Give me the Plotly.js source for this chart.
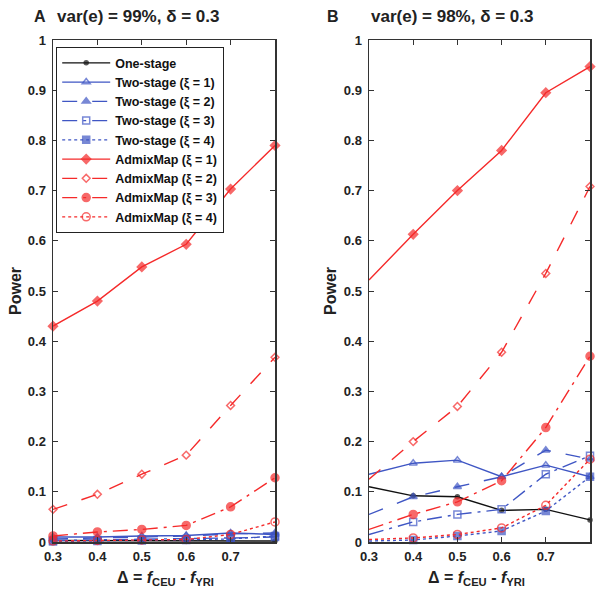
<!DOCTYPE html>
<html>
<head>
<meta charset="utf-8">
<script src="https://cdn.plot.ly/plotly-3.0.1.min.js"></script>
<style>html,body{margin:0;padding:0;background:#fff;}#chart{width:602px;height:595px;}</style>
</head>
<body>
<div id="chart"></div>
<script>
// ---- Data ----
const delta = [0.3, 0.4, 0.5, 0.6, 0.7, 0.8];
const seriesNames = ["One-stage", "Two-stage (ξ = 1)", "Two-stage (ξ = 2)", "Two-stage (ξ = 3)", "Two-stage (ξ = 4)",
  "AdmixMap (ξ = 1)", "AdmixMap (ξ = 2)", "AdmixMap (ξ = 3)", "AdmixMap (ξ = 4)"];

// Panel A: var(e) = 99%
const A_oneStage  = [0.003, 0.003, 0.003, 0.003, 0.003, 0.002];
const A_two1      = [0.010, 0.010, 0.012, 0.013, 0.018, 0.015];
const A_two2      = [0.006, 0.008, 0.010, 0.012, 0.016, 0.018];
const A_two3      = [0.003, 0.004, 0.005, 0.006, 0.008, 0.010];
const A_two4      = [0.001, 0.002, 0.003, 0.004, 0.006, 0.012];
const A_admix1    = [0.430, 0.480, 0.548, 0.593, 0.703, 0.790];
const A_admix2    = [0.065, 0.095, 0.135, 0.173, 0.272, 0.368];
const A_admix3    = [0.012, 0.020, 0.025, 0.033, 0.070, 0.128];
const A_admix4    = [0.002, 0.003, 0.004, 0.005, 0.015, 0.040];

// Panel B: var(e) = 98%
const B_oneStage  = [0.110, 0.092, 0.090, 0.063, 0.065, 0.044];
const B_two1      = [0.135, 0.157, 0.163, 0.130, 0.153, 0.130];
const B_two2      = [0.055, 0.090, 0.110, 0.130, 0.183, 0.165];
const B_two3      = [0.015, 0.040, 0.055, 0.065, 0.135, 0.172];
const B_two4      = [0.002, 0.004, 0.012, 0.022, 0.062, 0.130];
const B_admix1    = [0.522, 0.613, 0.700, 0.780, 0.895, 0.947];
const B_admix2    = [0.125, 0.200, 0.270, 0.378, 0.535, 0.708];
const B_admix3    = [0.025, 0.055, 0.080, 0.122, 0.228, 0.370];
const B_admix4    = [0.005, 0.008, 0.015, 0.028, 0.073, 0.165];

const xTickVals = [0.3, 0.4, 0.5, 0.6, 0.7];
const xTickText = ["0.3", "0.4", "0.5", "0.6", "0.7"];
const yTickVals = [0, 0.1, 0.2, 0.3, 0.4, 0.5, 0.6, 0.7, 0.8, 0.9, 1];
const yTickText = ["0", "0.1", "0.2", "0.3", "0.4", "0.5", "0.6", "0.7", "0.8", "0.9", "1"];

// ---- Styles ----
const BLACK = "#111111", BLUE = "#3f56c4", RED = "#f52a2a";
const styles = [
  {color: BLACK, dash: "solid",       symbol: "circle",            size: 4},
  {color: BLUE,  dash: "solid",       symbol: "triangle-up-open",  size: 7},
  {color: BLUE,  dash: "longdash",    symbol: "triangle-up",       size: 7},
  {color: BLUE,  dash: "longdashdot", symbol: "square-open",       size: 7},
  {color: BLUE,  dash: "dot",         symbol: "square",            size: 7},
  {color: RED,   dash: "solid",       symbol: "diamond",           size: 7},
  {color: RED,   dash: "longdash",    symbol: "diamond-open",      size: 6},
  {color: RED,   dash: "longdashdot", symbol: "circle",            size: 8},
  {color: RED,   dash: "dot",         symbol: "circle-open",       size: 8}
];

const panelA = [A_oneStage, A_two1, A_two2, A_two3, A_two4, A_admix1, A_admix2, A_admix3, A_admix4];
const panelB = [B_oneStage, B_two1, B_two2, B_two3, B_two4, B_admix1, B_admix2, B_admix3, B_admix4];

const traces = [];
function addPanel(data, xa, ya, showLegend, hideFirstMarker) {
  data.forEach((ys, i) => {
    const st = styles[i];
    const sizes = delta.map((_, k) => (hideFirstMarker && k === 0) ? 0 : st.size);
    traces.push({
      x: delta, y: ys, xaxis: xa, yaxis: ya,
      type: "scatter", mode: "lines+markers",
      name: seriesNames[i], showlegend: showLegend, cliponaxis: false,
      line: {color: st.color, dash: st.dash, width: 1.4},
      marker: {color: st.color, symbol: st.symbol, size: sizes, line: {color: st.color, width: 1.5}}
    });
  });
}
addPanel(panelA, "x", "y", true, false);
addPanel(panelB, "x2", "y2", false, true);

const tickFont = {family: "Liberation Sans, Arial, sans-serif", size: 13, color: "#222", weight: "bold"};
function xAxis(domain, anchor) {
  return {domain: domain, anchor: anchor, range: [0.3, 0.8], tickvals: xTickVals, ticktext: xTickText,
    ticks: "inside", ticklen: 5, tickcolor: "#333", showline: true, linecolor: "#333", linewidth: 1.5,
    mirror: "ticks", showgrid: false, zeroline: false, tickfont: tickFont, ticklabelstandoff: 2};
}
function yAxis(domain, anchor) {
  return {domain: domain, anchor: anchor, range: [0, 1], tickvals: yTickVals, ticktext: yTickText,
    ticks: "inside", ticklen: 5, tickcolor: "#333", showline: true, linecolor: "#333", linewidth: 1.5,
    mirror: "ticks", showgrid: false, zeroline: false, tickfont: tickFont, ticklabelstandoff: 3};
}
const yDom = [1 - 542/595, 1 - 40/595];
const layout = {
  width: 602, height: 595,
  margin: {l: 0, r: 0, t: 0, b: 0},
  paper_bgcolor: "#fff", plot_bgcolor: "#fff",
  font: {family: "Liberation Sans, Arial, sans-serif", color: "#222"},
  xaxis: xAxis([53/602, 275/602], "y"),
  yaxis: yAxis(yDom, "x"),
  xaxis2: xAxis([369/602, 590/602], "y2"),
  yaxis2: yAxis(yDom, "x2"),
  showlegend: true,
  legend: {x: 56/602, y: 1 - 47/595, xanchor: "left", yanchor: "top",
    bgcolor: "#fff", bordercolor: "#222", borderwidth: 1.2, tracegroupgap: 0, itemwidth: 48,
    font: {family: "Liberation Sans, Arial, sans-serif", size: 12.5, color: "#111", weight: "bold"}},
  annotations: [
    {text: "<b>A</b>", x: 40/602, y: 1 - 16/595, xref: "paper", yref: "paper", showarrow: false, xanchor: "center", yanchor: "middle", font: {size: 16}},
    {text: "<b>var(e) = 99%, δ = 0.3</b>", x: 138/602, y: 1 - 16/595, xref: "paper", yref: "paper", showarrow: false, xanchor: "center", yanchor: "middle", font: {size: 17}},
    {text: "<b>B</b>", x: 333/602, y: 1 - 16/595, xref: "paper", yref: "paper", showarrow: false, xanchor: "center", yanchor: "middle", font: {size: 16}},
    {text: "<b>var(e) = 98%, δ = 0.3</b>", x: 452/602, y: 1 - 16/595, xref: "paper", yref: "paper", showarrow: false, xanchor: "center", yanchor: "middle", font: {size: 17}},
    {text: "<b>Power</b>", x: 15/602, y: 1 - 291/595, xref: "paper", yref: "paper", showarrow: false, textangle: -90, xanchor: "center", yanchor: "middle", font: {size: 16}},
    {text: "<b>Power</b>", x: 330/602, y: 1 - 291/595, xref: "paper", yref: "paper", showarrow: false, textangle: -90, xanchor: "center", yanchor: "middle", font: {size: 16}},
    {text: "<b>Δ = <i>f</i><sub>CEU</sub> - <i>f</i><sub>YRI</sub></b>", x: 165/602, y: 1 - 578/595, xref: "paper", yref: "paper", showarrow: false, xanchor: "center", yanchor: "middle", font: {size: 16}},
    {text: "<b>Δ = <i>f</i><sub>CEU</sub> - <i>f</i><sub>YRI</sub></b>", x: 476/602, y: 1 - 578/595, xref: "paper", yref: "paper", showarrow: false, xanchor: "center", yanchor: "middle", font: {size: 16}}
  ]
};
Plotly.newPlot("chart", traces, layout, {displayModeBar: false, staticPlot: true});
</script>
</body>
</html>
